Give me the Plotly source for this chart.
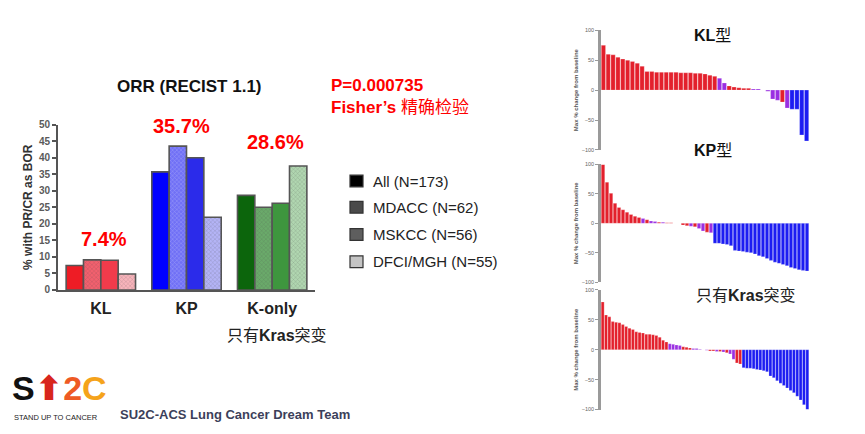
import plotly.graph_objects as go

W, H = 865, 434
def px(x): return x / W
def py(y): return 1 - y / H

FONT = "Liberation Sans, Arial, Noto Sans CJK SC, sans-serif"

# ---------------- ORR bar chart data ----------------
categories = ["KL", "KP", "K-only"]
series_names = ["All (N=173)", "MDACC (N=62)", "MSKCC (N=56)", "DFCI/MGH (N=55)"]
orr_all = [7.4, 35.7, 28.6]
orr_mdacc = [9.1, 43.5, 25.0]
orr_mskcc = [9.0, 40.0, 26.2]
orr_dfci = [4.8, 22.0, 37.5]
pct_labels = ["7.4%", "35.7%", "28.6%"]
orr_ticks = list(range(0, 51, 5))

colors_all = ["#ee1c25", "#0000ff", "#0c650c"]
colors_mdacc = ["#f2606e", "#7070f6", "#6aaa6a"]
colors_mskcc = ["#f23b4b", "#2b2bea", "#3e963e"]
colors_dfci = ["#f8b4bb", "#b4b4f6", "#b0d6b0"]
legend_colors = ["#000000", "#4a4a4a", "#5e5e5e", "#c4c4c4"]

# ---------------- waterfall data (max % change from baseline) ----------------
kl_change = [75, 60, 59, 55, 52, 50, 48, 45, 40,
             31, 31, 30, 30, 30, 30, 30, 29, 29, 29, 28, 28,
             27, 25, 23, 20, 12, 7, 5, 4, 3, 3, 2, 2, 0,
             -2, -15, -17, -20, -30, -32, -32, -75, -85]
kl_resp = list("rrrrrrrrrrrrrrrrrrrrrrrr" + "pp" + "rrrrr" + "pp" + "p" + "ppprp" + "bbbb")

kp_change = [100, 70, 51, 34, 27, 23, 19, 15, 12, 10, 8, 6, 4, 3, 2, 2, 1, 1,
             0, 0,
             -3, -4, -5, -6, -9, -13, -15, -16,
             -34, -34, -35, -36, -38, -46, -47, -48, -49, -50, -52, -55,
             -57, -60, -63, -66, -68, -70, -72, -75, -77, -79, -80, -81]
kp_resp = list("rrrrrrrrrrprpprprr" + "pp" + "rrprpprp" + "b" * 24)

ko_change = [80, 58, 55, 47, 46, 45, 42, 39, 36, 34, 30, 29, 28, 26, 26, 25, 24, 21,
             16, 13, 10, 9, 8, 7, 5, 4, 3, 2, 2, 1,
             0,
             -1, -2, -2, -3, -3, -4, -5, -7, -16, -22, -24,
             -30, -31, -31, -32, -33, -34, -35, -37, -44, -47, -52, -56, -60,
             -64, -68, -72, -78, -84, -92, -100]
ko_resp = list("r" * 20 + "pppp" + "rrr" + "ppp" + "p" + "prrprprppr" + "r" + "b" * 20)

resp_colors = {"r": "#e3202c", "p": "#9a2fe2", "b": "#1c1cf2"}
wf_ticks = [-100, -50, 0, 50, 100]

fig = go.Figure()

# ---- grouped bars ----
pat_none = dict(shape="")
pat_fine = dict(shape="x", size=3, solidity=0.25, fgcolor="#ffffff", fgopacity=0.35)
for name, vals, cols, pat in [
    (series_names[0], orr_all, colors_all, pat_none),
    (series_names[1], orr_mdacc, colors_mdacc, pat_fine),
    (series_names[2], orr_mskcc, colors_mskcc, pat_none),
    (series_names[3], orr_dfci, colors_dfci, pat_fine),
]:
    fig.add_trace(go.Bar(
        x=categories, y=vals, name=name, showlegend=False,
        marker=dict(color=cols, line=dict(color="#555555", width=1.6), pattern=pat),
        xaxis="x", yaxis="y"))

# ---- waterfalls ----
for i, (vals, resp) in enumerate([(kl_change, kl_resp), (kp_change, kp_resp), (ko_change, ko_resp)]):
    n = i + 2
    fig.add_trace(go.Bar(
        x=list(range(1, len(vals) + 1)), y=vals, showlegend=False,
        marker=dict(color=[resp_colors[c] for c in resp],
                    line=dict(color="rgba(255,255,255,0.6)", width=0.4)),
        width=0.88,
        xaxis=f"x{n}", yaxis=f"y{n}"))

wf_domains = [(py(148), py(25)), (py(284), py(163)), (py(415), py(292))]

layout = dict(
    width=W, height=H, margin=dict(l=0, r=0, t=0, b=0),
    paper_bgcolor="white", plot_bgcolor="white",
    font=dict(family=FONT, color="#222"),
    barmode="group", bargap=0.19, bargroupgap=0.0,
    showlegend=False,
    xaxis=dict(domain=[px(58), px(315)], anchor="y",
               tickmode="array", tickvals=categories,
               ticktext=[f"<b>{c}</b>" for c in categories],
               tickfont=dict(size=16, color="#222"),
               showline=True, linecolor="#555", linewidth=2,
               ticks="outside", ticklen=3, tickcolor="rgba(0,0,0,0)",
               showgrid=False, zeroline=False, fixedrange=True),
    yaxis=dict(domain=[py(292), py(122)], anchor="x", range=[0, 50],
               tickmode="array", tickvals=orr_ticks,
               ticktext=[f"<b>{t}</b>" for t in orr_ticks],
               tickfont=dict(size=10, color="#5a5a5a"),
               showline=True, linecolor="#555", linewidth=2,
               ticks="outside", ticklen=4, tickcolor="#555", tickwidth=1.5,
               showgrid=False, zeroline=False,
               title=dict(text="<b>% with PR/CR as BOR</b>", font=dict(size=12, color="#333"), standoff=4)),
)
for i, dom in enumerate(wf_domains):
    n = i + 2
    nb = [len(kl_change), len(kp_change), len(ko_change)][i]
    layout[f"xaxis{n}"] = dict(domain=[px(601), px(809)], anchor=f"y{n}",
                              range=[0.5, nb + 0.5], visible=False)
    layout[f"yaxis{n}"] = dict(domain=list(dom), anchor=f"x{n}", range=[-100, 100],
                              tickvals=wf_ticks, tickfont=dict(size=5.5, color="#666"),
                              showline=True, linecolor="#9a9a9a", linewidth=2.5,
                              ticks="outside", ticklen=3, tickcolor="#9a9a9a",
                              showgrid=False, zeroline=False,
                              title=dict(text="<b>Max % change from baseline</b>",
                                         font=dict(size=6, color="#555"), standoff=3))
fig.update_layout(**layout)

ann = []
def A(text, x, y, size, color="#222", xanchor="center", yanchor="middle"):
    ann.append(dict(text=text, x=px(x), y=py(y), xref="paper", yref="paper",
                    showarrow=False, xanchor=xanchor, yanchor=yanchor,
                    font=dict(size=size, color=color, family=FONT)))

A("<b>ORR (RECIST 1.1)</b>", 189, 83, 17, "#111")
for lab, cx, cy in zip(pct_labels, [104, 181, 275], [240, 123, 140]):
    A(f"<b>{lab}</b>", cx, cy, 20, "#ff0000")
A("<b>P=0.000735</b>", 329, 82, 17, "#ff0000", xanchor="left")
A("<b>Fisher’s</b> 精确检验", 329, 104, 17, "#ff0000", xanchor="left")
A("只有<b>Kras</b>突变", 277, 339, 16, "#222")

# legend
shapes = []
for k, (name, col) in enumerate(zip(series_names, legend_colors)):
    cy = [180, 207, 235, 263][k]
    shapes.append(dict(type="rect", xref="paper", yref="paper",
                       x0=px(350), x1=px(363), y0=py(cy + 6), y1=py(cy - 6),
                       fillcolor=col, line=dict(color="#333", width=1.2)))
    A(name, 371, cy, 15, "#222", xanchor="left")

# waterfall titles
A("<b>KL</b>型", 712, 30, 16, "#111")
A("<b>KP</b>型", 713, 149, 16, "#111")
A("只有<b>Kras</b>突变", 746, 298, 16, "#222")

# logo / footer
A("<b><span style='color:#111'>S</span><span style='color:#d8261c;font-family:DejaVu Sans'>⬆</span>"
  "<span style='color:#ee5a24'>2</span><span style='color:#f5a31b'>C</span></b>",
  10, 393, 34, "#111", xanchor="left")
A("STAND UP TO CANCER", 12, 423, 7.5, "#222", xanchor="left")
A("<b>SU2C-ACS Lung Cancer Dream Team</b>", 118, 420, 13, "#3c3f5a", xanchor="left")

fig.update_layout(annotations=ann, shapes=shapes)
fig.write_html("out.html")
